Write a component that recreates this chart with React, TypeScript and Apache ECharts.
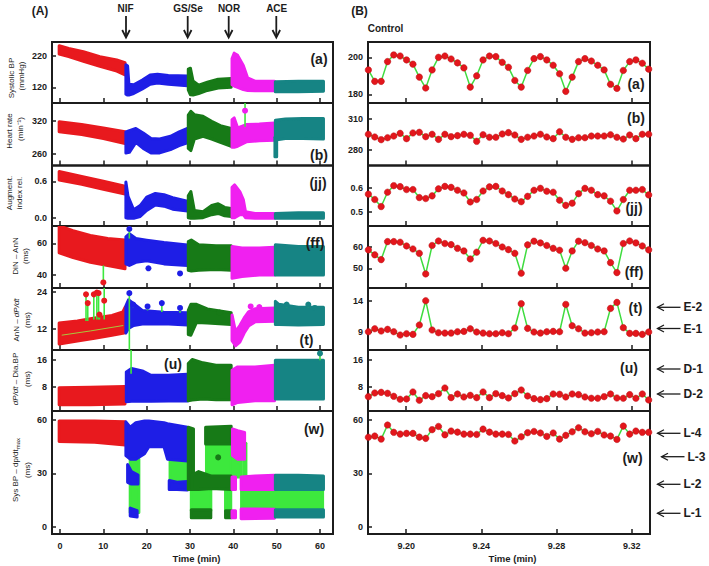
import React, { useEffect, useRef } from "react";
import * as echarts from "echarts";

const RED = "#e8191e";
const BLUE = "#1e1ee6";
const DGREEN = "#177a17";
const MAGENTA = "#f020f0";
const TEAL = "#168484";
const LIME = "#3de83d";
const INK = "#1c1c1c";
const FONT = "'Liberation Sans', Arial, Helvetica, sans-serif";

// ---------------- Panel B (control, beat by beat) ----------------
const beatTimes = [9.1799, 9.1833, 9.1867, 9.1901, 9.1934, 9.1968, 9.2002, 9.2036, 9.207, 9.2104, 9.2138, 9.2172, 9.2206, 9.2239, 9.2273, 9.2307, 9.2341, 9.2375, 9.2409, 9.2443, 9.2477, 9.2511, 9.2544, 9.2578, 9.2612, 9.2646, 9.268, 9.2714, 9.2748, 9.2782, 9.2816, 9.2849, 9.2883, 9.2917, 9.2951, 9.2985, 9.3019, 9.3053, 9.3087, 9.3121, 9.3155, 9.3189, 9.3222, 9.3256, 9.329];
const ctlSystolic = [193.2, 187.0, 187.0, 197.7, 201.3, 200.7, 198.6, 196.3, 189.3, 183.4, 193.2, 200.0, 200.7, 199.1, 197.0, 194.3, 183.9, 190.0, 198.6, 200.7, 200.4, 197.3, 194.6, 187.5, 183.9, 192.9, 199.3, 200.4, 198.6, 195.7, 191.1, 181.6, 189.3, 197.7, 199.3, 198.0, 195.7, 193.2, 185.4, 183.2, 192.9, 197.7, 198.6, 196.8, 193.6];
const ctlHeartRate = [295.2, 292.6, 290.0, 291.9, 293.5, 296.1, 291.0, 296.5, 297.1, 292.9, 295.2, 290.3, 295.2, 292.9, 293.9, 295.2, 294.2, 288.4, 294.8, 292.3, 292.3, 295.5, 296.8, 294.5, 290.3, 292.3, 293.5, 295.2, 292.6, 291.0, 297.7, 292.3, 290.3, 291.9, 291.9, 293.5, 293.5, 293.5, 294.8, 292.3, 290.6, 294.5, 291.0, 295.2, 295.2];
const ctlAugIndex = [0.573, 0.551, 0.522, 0.581, 0.608, 0.604, 0.592, 0.592, 0.559, 0.555, 0.566, 0.595, 0.605, 0.601, 0.589, 0.578, 0.541, 0.551, 0.586, 0.603, 0.605, 0.586, 0.571, 0.553, 0.542, 0.564, 0.589, 0.597, 0.585, 0.581, 0.548, 0.527, 0.536, 0.575, 0.597, 0.589, 0.571, 0.566, 0.544, 0.504, 0.551, 0.589, 0.589, 0.592, 0.570];
const ctlDinAnn = [58.5, 56.2, 54.0, 62.3, 62.3, 62.0, 60.3, 58.9, 56.9, 47.4, 60.5, 62.6, 61.4, 60.9, 59.2, 58.0, 54.3, 57.4, 62.9, 62.6, 61.4, 59.8, 58.6, 56.9, 47.7, 60.8, 62.5, 61.7, 60.5, 59.2, 58.3, 50.0, 58.0, 62.5, 61.8, 60.5, 58.9, 58.0, 52.6, 48.0, 61.4, 62.6, 61.7, 60.3, 58.5];
const ctlAnnDpdt = [9.0, 9.48, 9.11, 9.38, 9.0, 8.46, 8.68, 8.57, 10.08, 14.0, 9.27, 8.84, 8.78, 8.78, 9.0, 9.05, 9.48, 8.95, 8.78, 8.68, 8.68, 8.84, 8.68, 9.59, 13.52, 9.54, 8.95, 8.78, 9.0, 9.05, 9.0, 13.4, 9.97, 9.48, 8.78, 8.84, 8.95, 9.0, 12.76, 13.73, 9.65, 8.73, 8.73, 8.57, 8.95];
const ctlDpdtDia = [5.07, 6.15, 6.34, 6.05, 5.17, 4.29, 4.39, 6.44, 4.0, 5.37, 5.07, 5.95, 7.61, 4.78, 5.85, 4.98, 5.46, 4.78, 6.44, 4.78, 5.95, 5.37, 4.68, 5.95, 7.02, 5.27, 4.49, 4.2, 4.49, 5.85, 5.76, 4.98, 5.85, 5.66, 4.98, 4.59, 4.59, 5.07, 5.85, 4.68, 4.59, 5.66, 4.59, 5.85, 4.1];
const ctlSysDpdt = [50.3, 51.0, 49.3, 57.2, 53.1, 52.1, 52.5, 52.5, 50.4, 49.7, 54.6, 56.4, 51.7, 53.8, 53.2, 52.1, 52.1, 51.9, 54.9, 53.2, 52.1, 52.1, 51.9, 48.2, 50.6, 52.9, 53.6, 52.7, 50.8, 52.7, 49.3, 51.4, 53.4, 55.7, 53.4, 52.3, 53.6, 51.6, 51.0, 49.1, 56.6, 52.1, 53.8, 53.1, 53.1];

// ---------------- Panel A (60 min recording): envelopes [time, low, high] ----------------
const sbpCtl = [[-0.2, 226, 253], [2, 218, 244], [5.4, 203, 234], [9.2, 187, 218], [13.1, 172, 207], [15.0, 160, 199]];
const sbpNif = [[15.2, 98, 192], [15.6, 95, 188], [15.9, 95, 130], [17, 100, 128], [19, 115, 143], [20.8, 130, 159], [22.5, 134, 162], [25, 130, 158], [29.4, 125, 156]];
const sbpGs = [[29.6, 112, 178], [30.1, 96, 181], [30.7, 95, 140], [32, 100, 127], [34, 110, 136], [36.5, 118, 146], [39.5, 120, 148]];
const sbpNor = [[39.7, 128, 212], [40.2, 124, 229], [41, 120, 222], [42.3, 113, 190], [43.3, 110, 150], [45, 109, 140], [49.5, 109, 139]];
const sbpAce = [[49.7, 106, 138], [55, 106, 139], [60.8, 107, 139]];

const hrCtl = [[-0.2, 300, 318], [5, 295, 313], [10, 288, 307], [15.0, 279, 300]];
const hrNif = [[15.2, 262, 300], [16, 263, 302], [17.5, 281, 306], [19.2, 270, 298], [21, 262, 288], [23, 262, 287], [25.5, 268, 292], [27.5, 275, 300], [29.4, 280, 306]];
const hrGs = [[29.6, 270, 330], [30.2, 266, 337], [31, 287, 331], [33, 292, 328], [35, 287, 319], [37, 281, 311], [39.5, 274, 306]];
const hrNor = [[39.7, 272, 322], [40.2, 272, 325], [41, 274, 307], [43, 282, 313], [46, 284, 314], [49.5, 285, 316]];
const hrAce = [[49.7, 285, 321], [52, 288, 323], [56, 288, 324], [60.8, 287, 324]];
const hrAceDrop = [[49.6, 255, 290], [50.0, 255, 290]];
const hrNorSpike = [[42.7, 338, 309, 355]];

const aixCtl = [[-0.2, 0.62, 0.76], [5, 0.55, 0.68], [10, 0.47, 0.6], [15.0, 0.39, 0.52]];
const aixNif = [[15.2, 0.0, 0.59], [15.7, -0.01, 0.35], [17, -0.01, 0.13], [18.5, 0.02, 0.2], [20, 0.12, 0.34], [22, 0.21, 0.4], [24, 0.19, 0.38], [26, 0.14, 0.33], [29.4, 0.11, 0.27]];
const aixGs = [[29.6, 0.0, 0.36], [30.2, -0.01, 0.43], [31, -0.01, 0.12], [33, 0.0, 0.1], [35, 0.05, 0.2], [36.5, 0.07, 0.23], [38, 0.03, 0.17], [39.5, 0.02, 0.15]];
const aixNor = [[39.7, 0.0, 0.5], [40.3, 0.0, 0.54], [41.5, 0.05, 0.43], [42.3, 0.05, 0.3], [42.8, 0.0, 0.1], [45, -0.01, 0.07], [49.5, -0.01, 0.07]];
const aixAce = [[49.7, -0.01, 0.07], [55, -0.01, 0.08], [60.8, -0.01, 0.08]];

const ffCtl = [[-0.2, 54, 71], [3, 51, 68], [7, 48, 65], [11, 46, 63], [15.0, 44, 62]];
const ffNif = [[15.2, 47, 64], [16, 46, 66], [17.5, 48, 63], [20, 49, 62], [24, 47, 60.5], [29.4, 46, 59]];
const ffGs = [[29.6, 43, 61], [30.3, 42.5, 62], [32, 43, 59], [36, 43.5, 58.5], [39.5, 43, 58.5]];
const ffNor = [[39.7, 38, 58], [42, 39, 57], [46, 40, 57], [49.5, 40, 57.5]];
const ffAce = [[49.7, 40, 59], [55, 40, 58], [60.8, 40, 58]];
const ffCtlOut = [[10.0, 35.3, 35.3, 46]];
const ffNifOut = [[16.0, 69, 63, 69], [20.4, 44.2, 44.2, 44.2], [27.7, 41, 41, 41]];

const tCtl = [[-0.2, 6.9, 13.8], [4, 7.9, 14.5], [8, 8.8, 15.5], [12, 9.8, 16.3], [14.5, 10.4, 17.5], [15.0, 10.6, 19]];
const tNif = [[15.2, 10.5, 19.5], [15.8, 12, 21.5], [17, 13, 20.2], [19, 13.5, 18], [24, 13.6, 17.4], [29.4, 13.2, 17.2]];
const tGs = [[29.6, 10, 18], [30.2, 9.8, 20], [31.5, 14, 20], [34, 13.8, 18.5], [39.5, 13.3, 17.2]];
const tNor = [[39.7, 8, 16.5], [40.5, 6.3, 11], [41.5, 7.5, 13], [42.5, 10.5, 15.5], [43.5, 12.8, 17.5], [45, 14.2, 18.5], [49.5, 14.4, 18.8]];
const tAce = [[49.7, 13.3, 21], [50.5, 13.3, 20], [55, 13.2, 19], [60.8, 13.3, 19]];
const tCtlOut = [[6.0, 23.3, 14.5, 23.3], [6.4, 20.4, 14.5, 20.4], [7.8, 23.3, 15, 23.3], [8.5, 23.9, 15, 23.9], [8.9, 23.7, 15, 23.7], [9.1, 16.6, 15, 16.6], [10.2, 21.2, 15, 26]];
const tNifOut = [[16.0, 23.7, 4, 23.7], [16.9, 19.9, 19, 19.9], [20.2, 19.3, 18, 19.3], [23.5, 20.4, 17.5, 20.4], [27.7, 18.8, 17.2, 18.8]];
const tGsOut = [[36.8, 17.3, 17.3, 17.3]];
const tNorOut = [[44, 19.3, 18.5, 19.3], [46, 19.1, 18.8, 19.1]];
const tAceOut = [[52.3, 19.9, 19, 19.9], [57.3, 19.9, 19, 19.9], [58.8, 18.8, 18.8, 18.8]];
const tCtlTrend = [[0.4, 9.8], [7, 11.2], [14.6, 13.0]];

const uCtl = [[-0.2, 2.8, 7.8], [7, 2.8, 8.0], [15.0, 3.0, 8.2]];
const uNif = [[15.3, 3.7, 12.5], [16.5, 3.8, 13.5], [19, 3.8, 12.8], [21, 3.8, 11.5], [25, 3.9, 11.5], [29.4, 3.9, 11.8]];
const uGs = [[29.6, 4.0, 15], [30.5, 4.2, 16.2], [33, 4.5, 15.2], [36, 4.3, 14.5], [39.5, 4.3, 14.5]];
const uNor = [[39.7, 2.8, 13], [41, 3.5, 14], [45, 4, 14], [49.5, 4, 14.5]];
const uAce = [[49.7, 4.5, 16], [55, 4.5, 16], [60.8, 4.5, 16]];
const uNifLine = [[16.4, NaN, 12, 20]];
const uAceOut = [[60.0, 18.0, 16, 18]];

const wCtl = [[-0.2, 48, 59.5], [8, 47.5, 59.5], [15.0, 46, 59]];
const wNifHigh = [[15.2, 40, 59], [16.2, 38, 56], [17.5, 38, 58.5], [19.5, 41, 59.5], [20.5, 45, 59.5], [24, 45, 58.5], [24.8, 38, 58], [29.4, 37, 56]];
const wNifMid = [[15.6, 25, 35], [16.5, 24, 31], [18, 24, 29]];
const wNifLow = [[16.2, 6, 10.5], [17.8, 5.5, 9]];
const wNifMid2 = [[25.2, 21, 26], [27, 21, 25], [29.4, 20.6, 25.5]];
const wGsSpike = [[29.6, 21, 56], [30.8, 21, 55]];
const wGsMid = [[30.5, 21, 29], [32, 21, 31], [35, 21.5, 28.5], [39.5, 21, 28.5]];
const wGsLow1 = [[30.3, 5, 9.5], [34.8, 5, 9.5]];
const wGsLow2 = [[38.2, 5, 9], [39.5, 5, 9]];
const wGsHigh = [[33.6, 46.5, 56], [39.5, 46.5, 56.5]];
const wNorHigh = [[39.8, 40, 55], [41, 38, 54], [42.6, 38, 53]];
const wNorMid = [[39.7, 21, 28], [40.5, 21, 28]];
const wNorLow = [[39.7, 5, 9], [40.5, 5, 9]];
const wNorMid2 = [[41.8, 21, 28], [45, 21, 28.5], [49.5, 21, 29]];
const wNorLow2 = [[41.8, 4.5, 10], [49.5, 4.8, 9.8]];
const wAceMid = [[49.7, 21, 29], [55, 21, 29], [60.8, 21, 28.5]];
const wAceLow = [[49.7, 5.5, 9.5], [60.8, 5.5, 9.5]];
const wJumpNif1 = [[16.2, 8, 38], [18.2, 8, 38]];
const wJumpNif2 = [[25.4, 22, 37], [29.6, 22, 37]];
const wJumpGs1 = [[30.3, 9, 21], [34.8, 9, 21]];
const wJumpGs2 = [[33.8, 28, 47], [39.4, 28, 47]];
const wJumpGs3 = [[38.2, 9, 21], [39.4, 9, 21]];
const wJumpNor1 = [[40, 28, 42], [41.8, 28, 42]];
const wJumpNor2 = [[42.4, 8, 47], [42.9, 8, 47]];
const wJumpLate = [[41.9, 10, 21], [60.6, 10, 21]];
const wGsOut = [[36.5, 39, 39, 39]];

const leftTimeTicks = [0, 10, 20, 30, 40, 50, 60];
const rightTimeTicks = [9.2, 9.24, 9.28, 9.32];

type Blob = { c: string; p: number[][] };
type Mark = { c: string; p: number[][] };

const B = (c: string, p: number[][]): Blob => ({ c, p });

const leftPanels = [
  { y: [69.8, 264.7], ticks: [120, 220], dec: 0,
    blobs: [B(RED, sbpCtl), B(BLUE, sbpNif), B(DGREEN, sbpGs), B(MAGENTA, sbpNor), B(TEAL, sbpAce)], marks: [] as Mark[] },
  { y: [239.3, 351.9], ticks: [260, 320], dec: 0,
    blobs: [B(RED, hrCtl), B(BLUE, hrNif), B(DGREEN, hrGs), B(MAGENTA, hrNor), B(TEAL, hrAceDrop), B(TEAL, hrAce)], marks: [{ c: MAGENTA, p: hrNorSpike }] },
  { y: [-0.137, 0.86], ticks: [0, 0.6], dec: 1,
    blobs: [B(RED, aixCtl), B(BLUE, aixNif), B(DGREEN, aixGs), B(MAGENTA, aixNor), B(TEAL, aixAce)], marks: [] as Mark[] },
  { y: [31.8, 70.9], ticks: [40, 60], dec: 0,
    blobs: [B(RED, ffCtl), B(BLUE, ffNif), B(DGREEN, ffGs), B(MAGENTA, ffNor), B(TEAL, ffAce)], marks: [{ c: RED, p: ffCtlOut }, { c: BLUE, p: ffNifOut }] },
  { y: [4.9, 25.4], ticks: [12, 24], dec: 0,
    blobs: [B(RED, tCtl), B(BLUE, tNif), B(DGREEN, tGs), B(MAGENTA, tNor), B(TEAL, tAce)],
    marks: [{ c: RED, p: tCtlOut }, { c: BLUE, p: tNifOut }, { c: DGREEN, p: tGsOut }, { c: MAGENTA, p: tNorOut }, { c: TEAL, p: tAceOut }] },
  { y: [0.95, 19.0], ticks: [8, 16], dec: 0,
    blobs: [B(RED, uCtl), B(BLUE, uNif), B(DGREEN, uGs), B(MAGENTA, uNor), B(TEAL, uAce)], marks: [{ c: BLUE, p: uNifLine }, { c: TEAL, p: uAceOut }] },
  { y: [-4.1, 65.1], ticks: [0, 30, 60], dec: 0,
    blobs: [B(LIME, wJumpNif1), B(LIME, wJumpNif2), B(LIME, wJumpGs1), B(LIME, wJumpGs2), B(LIME, wJumpGs3), B(LIME, wJumpNor1), B(LIME, wJumpNor2), B(LIME, wJumpLate),
      B(RED, wCtl), B(BLUE, wNifHigh), B(BLUE, wNifMid), B(BLUE, wNifLow), B(BLUE, wNifMid2),
      B(DGREEN, wGsSpike), B(DGREEN, wGsMid), B(DGREEN, wGsLow1), B(DGREEN, wGsLow2), B(DGREEN, wGsHigh),
      B(MAGENTA, wNorHigh), B(MAGENTA, wNorMid), B(MAGENTA, wNorLow), B(MAGENTA, wNorMid2), B(MAGENTA, wNorLow2),
      B(TEAL, wAceMid), B(TEAL, wAceLow)],
    marks: [{ c: DGREEN, p: wGsOut }] },
];

const rightPanels = [
  { y: [175.3, 208.3], ticks: [180, 200], dec: 0, v: ctlSystolic },
  { y: [265, 325.5], ticks: [280, 310], dec: 0, v: ctlHeartRate },
  { y: [0.442, 0.691], ticks: [0.5, 0.6], dec: 1, v: ctlAugIndex },
  { y: [40.9, 69.5], ticks: [50, 60], dec: 0, v: ctlDinAnn },
  { y: [6.05, 16.05], ticks: [9, 14], dec: 0, v: ctlAnnDpdt },
  { y: [0.85, 18.8], ticks: [8, 16], dec: 0, v: ctlDpdtDia },
  { y: [-4.1, 65.1], ticks: [0, 30, 60], dec: 0, v: ctlSysDpdt },
];

const rows = [
  { top: 42, h: 61 },
  { top: 103, h: 62.5 },
  { top: 165.5, h: 60.5 },
  { top: 226, h: 62 },
  { top: 288, h: 62 },
  { top: 350, h: 61 },
  { top: 411, h: 123 },
];

function bandSeries(gi: number, blobs: Blob[]) {
  return {
    type: "custom",
    xAxisIndex: gi,
    yAxisIndex: gi,
    clip: true,
    silent: true,
    z: 2,
    data: blobs.map((b) => [b.p[0][0], b.p[0][1]]),
    encode: { x: 0, y: 1 },
    renderItem: (params: any, api: any) => {
      const b = blobs[params.dataIndex];
      const top = b.p.map((q) => api.coord([q[0], q[2]]));
      const bot = b.p.slice().reverse().map((q) => api.coord([q[0], q[1]]));
      return {
        type: "polygon",
        shape: { points: top.concat(bot) },
        style: { fill: b.c, stroke: b.c, lineWidth: 3, lineJoin: "round" },
      };
    },
  };
}

function markSeries(gi: number, marks: Mark[]) {
  const flat: { c: string; q: number[] }[] = [];
  marks.forEach((m) => m.p.forEach((q) => flat.push({ c: m.c, q })));
  return {
    type: "custom",
    xAxisIndex: gi,
    yAxisIndex: gi,
    clip: true,
    silent: true,
    z: 3,
    data: flat.map((f) => [f.q[0], isNaN(f.q[1]) ? f.q[2] : f.q[1]]),
    encode: { x: 0, y: 1 },
    renderItem: (params: any, api: any) => {
      const f = flat[params.dataIndex];
      const [t, v, y1, y2] = f.q;
      const children: any[] = [];
      if (y1 !== y2) {
        const a = api.coord([t, y1]);
        const b = api.coord([t, y2]);
        children.push({ type: "line", shape: { x1: a[0], y1: a[1], x2: b[0], y2: b[1] }, style: { stroke: LIME, lineWidth: 1.6 } });
      }
      if (!isNaN(v)) {
        const c = api.coord([t, v]);
        children.push({ type: "circle", shape: { cx: c[0], cy: c[1], r: 3 }, style: { fill: f.c } });
      }
      return { type: "group", children };
    },
  };
}

function buildOption() {
  const grid: any[] = [];
  const xAxis: any[] = [];
  const yAxis: any[] = [];
  const series: any[] = [];
  const tickLabel = { fontSize: 9, fontWeight: "bold", color: INK, fontFamily: FONT };

  rows.forEach((r, i) => {
    [0, 1].forEach((col) => {
      const gi = grid.length;
      const isL = col === 0;
      const last = i === rows.length - 1;
      grid.push({
        left: isL ? 52 : 368, top: r.top, width: isL ? 281 : 282, height: r.h,
        show: true, borderColor: INK, borderWidth: 2, backgroundColor: "transparent",
        containLabel: false, outerBoundsMode: "none",
      });
      const xt = isL ? leftTimeTicks : rightTimeTicks;
      xAxis.push({
        type: "value", gridIndex: gi, position: "bottom",
        min: isL ? -1.85 : 9.1797, max: isL ? 63 : 9.3297,
        axisLine: { show: false, onZero: false }, splitLine: { show: false },
        axisTick: { show: true, inside: true, length: 5, customValues: xt, lineStyle: { color: INK, width: 1.5 } },
        axisLabel: {
          show: last, customValues: xt, margin: 7, ...tickLabel,
          formatter: (v: number) => (isL ? String(Math.round(v)) : Number(v).toFixed(2)),
        },
      });
      const p: any = isL ? leftPanels[i] : rightPanels[i];
      yAxis.push({
        type: "value", gridIndex: gi, position: "left", min: p.y[0], max: p.y[1],
        axisLine: { show: false, onZero: false }, splitLine: { show: false },
        axisTick: { show: true, inside: true, length: 4, customValues: p.ticks, lineStyle: { color: INK, width: 1.5 } },
        axisLabel: { customValues: p.ticks, margin: 5, ...tickLabel, formatter: (v: number) => Number(v).toFixed(p.dec) },
      });
      if (isL) {
        series.push(bandSeries(gi, p.blobs));
        if (p.marks.length) series.push(markSeries(gi, p.marks));
        if (i === 4) {
          series.push({
            type: "line", xAxisIndex: gi, yAxisIndex: gi, data: tCtlTrend, showSymbol: false, z: 3, silent: true,
            lineStyle: { color: "#a9c83c", width: 1 },
          });
        }
      } else {
        series.push({
          type: "line", xAxisIndex: gi, yAxisIndex: gi, z: 3, silent: true,
          data: beatTimes.map((t, k) => [t, p.v[k]]),
          symbol: "circle", symbolSize: 6.5,
          itemStyle: { color: "#e3161c", borderColor: "#b80f12", borderWidth: 0.5 },
          lineStyle: { color: "#3fdc3f", width: 1.5 },
        });
      }
    });
  });

  const txt = (x: number, y: number, text: string, size: number, bold = true, align = "center", extra: any = {}) => ({
    type: "text", x, y, silent: true, z: 100,
    style: { text, fontSize: size, fontWeight: bold ? "bold" : "normal", fontFamily: FONT, fill: INK, align, verticalAlign: "middle", ...extra },
  });
  const vtxt = (x: number, y: number, text: string, rich?: any, align = "center") => ({
    type: "text", x, y, rotation: Math.PI / 2, silent: true, z: 100,
    style: { text, fontSize: 8, fontFamily: FONT, fill: INK, align, verticalAlign: "middle", rich },
  });
  const graphic: any[] = [];
  // headers
  graphic.push(txt(40, 11, "(A)", 12), txt(359.5, 11, "(B)", 12), txt(385.5, 28, "Control", 10));
  const tops = [["NIF", 126, 125.5], ["GS/Se", 187.7, 188], ["NOR", 228.7, 229], ["ACE", 276.3, 276.7]];
  tops.forEach(([label, ax, tx]: any) => {
    graphic.push(txt(tx, 8, label, 10));
    graphic.push({ type: "line", silent: true, z: 100, shape: { x1: ax, y1: 16, x2: ax, y2: 37 }, style: { stroke: INK, lineWidth: 1.8 } });
    graphic.push({ type: "polyline", silent: true, z: 100, shape: { points: [[ax - 3.8, 30], [ax, 37.5], [ax + 3.8, 30]] }, style: { stroke: INK, lineWidth: 1.8, fill: null } });
  });
  // panel letters
  const leftLetters = [["(a)", 319, 59], ["(b)", 319, 155], ["(jj)", 318, 182.5], ["(ff)", 315, 242.5], ["(t)", 306.5, 340], ["(u)", 173, 364], ["(w)", 314, 429]];
  const rightLetters = [["(a)", 636, 84], ["(b)", 636, 117.5], ["(jj)", 634, 208], ["(ff)", 634, 271.5], ["(t)", 635.5, 308], ["(u)", 629, 367.5], ["(w)", 632.5, 457.5]];
  [...leftLetters, ...rightLetters].forEach(([s, x, y]: any) => graphic.push(txt(x, y, s, 14)));
  // y names
  const it = { i: { fontStyle: "italic", fontSize: 8, fontFamily: FONT, fill: INK } };
  graphic.push(vtxt(11.5, 78, "Systolic BP"), vtxt(21, 76, "(mmHg)"));
  graphic.push(vtxt(9.5, 131, "Heart rate"), vtxt(20, 129, "(min⁻¹)"));
  graphic.push(vtxt(9.5, 193, "Augment."), vtxt(19.5, 193, "index rel."));
  graphic.push(vtxt(15.5, 256, "DiN – AnN"), vtxt(25, 256, "(ms)"));
  graphic.push(vtxt(16, 320, "AnN – {i|dP/dt}", it), vtxt(27, 320, "(ms)"));
  graphic.push(vtxt(15, 379, "{i|dP/dt} – Dia.BP", it), vtxt(27, 379, "(ms)"));
  graphic.push(
    vtxt(15, 470, "{n|Sys BP – dp/dt}{s|max}", {
      n: { fontSize: 8, fontFamily: FONT, fill: INK, lineHeight: 12, verticalAlign: "middle" },
      s: { fontSize: 6, fontFamily: FONT, fill: INK, lineHeight: 6, verticalAlign: "bottom" },
    }),
    vtxt(27.5, 470, "(ms)")
  );
  // time titles
  graphic.push(txt(196.5, 558, "Time (min)", 9.5), txt(512.5, 558, "Time (min)", 9.5));
  // right side arrows
  const sideArrows = [["E-2", 307.3, 657.5], ["E-1", 328.5, 657.5], ["D-1", 369, 657.5], ["D-2", 394, 657.5], ["L-4", 433.3, 657.5], ["L-3", 456.7, 661.5], ["L-2", 484.3, 657.5], ["L-1", 513.3, 657.5]];
  sideArrows.forEach(([s, y, x]: any) => {
    graphic.push({ type: "line", silent: true, z: 100, shape: { x1: x, y1: y, x2: x + 23, y2: y }, style: { stroke: INK, lineWidth: 1.3 } });
    graphic.push({ type: "polyline", silent: true, z: 100, shape: { points: [[x + 6.5, y - 3.5], [x, y], [x + 6.5, y + 3.5]] }, style: { stroke: INK, lineWidth: 1.3, fill: null } });
    graphic.push(txt(x + 26, y, s, 12, true, "left"));
  });

  return { animation: false, backgroundColor: "#ffffff", grid, xAxis, yAxis, series, graphic };
}

export default function App() {
  const ref = useRef<HTMLDivElement>(null);
  useEffect(() => {
    if (!ref.current) return;
    const chart = echarts.init(ref.current, null, { renderer: "svg" });
    chart.setOption(buildOption() as any);
    return () => chart.dispose();
  }, []);
  return <div ref={ref} style={{ position: "fixed", left: 0, top: 0, width: 709, height: 566, background: "#fff" }} />;
}
